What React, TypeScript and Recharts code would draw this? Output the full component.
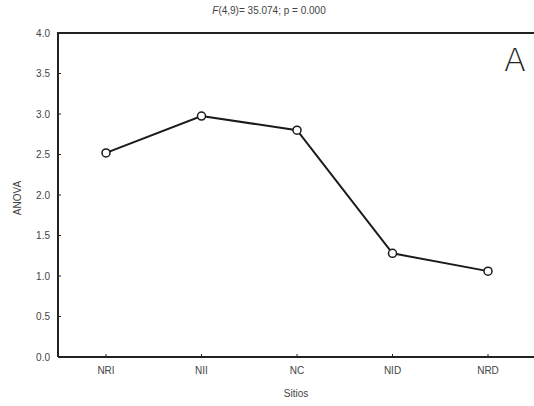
import React from 'react';
import { LineChart, Line, XAxis, YAxis } from 'recharts';

const sites = ['NRI', 'NII', 'NC', 'NID', 'NRD'];
const anovaMeans = [2.52, 2.975, 2.8, 1.28, 1.06];
const yTicks = [0, 0.5, 1, 1.5, 2, 2.5, 3, 3.5, 4];

const data = sites.map((s, i) => ({ site: s, value: anovaMeans[i] }));

const font = '"Liberation Sans", Arial, sans-serif';
const textColor = '#444';
const axisColor = '#222';

const App: React.FC = () => {
    return (
        <div style={{ position: 'absolute', left: 0, top: 0, width: 534, height: 406, overflow: 'hidden', background: '#fff', fontFamily: font }}>
            <LineChart width={540} height={406} data={data} margin={{ top: 33, right: 4, bottom: 19, left: 18 }}>
                <XAxis
                    dataKey="site"
                    padding={{ left: 48, right: 48 }}
                    axisLine={{ stroke: axisColor, strokeWidth: 2 }}
                    tickLine={{ stroke: axisColor }}
                    tickSize={-3}
                    tickMargin={13}
                    height={30}
                    tick={{ fontSize: 10, fill: textColor, fontFamily: font }}
                />
                <YAxis
                    domain={[0, 4]}
                    ticks={yTicks}
                    tickFormatter={(v: number) => v.toFixed(1)}
                    width={40}
                    axisLine={{ stroke: axisColor, strokeWidth: 2 }}
                    tickLine={{ stroke: axisColor }}
                    tickSize={-3}
                    tickMargin={11}
                    tick={{ fontSize: 10, fill: textColor, fontFamily: font }}
                />
                <Line
                    dataKey="value"
                    type="linear"
                    stroke="#1a1a1a"
                    strokeWidth={2}
                    dot={{ r: 4, fill: '#fff', stroke: '#1a1a1a', strokeWidth: 1.5 }}
                    isAnimationActive={false}
                />
            </LineChart>
            {/* top edge of the plot frame */}
            <div style={{ position: 'absolute', left: 57, top: 32, width: 480, height: 2, background: axisColor }} />
            <div style={{ position: 'absolute', left: 0, width: 538, top: 5, textAlign: 'center', fontSize: 10, color: textColor }}>
                <i>F</i>(4,9)= 35.074; p = 0.000
            </div>
            <div style={{ position: 'absolute', left: 0, width: 592, top: 388, textAlign: 'center', fontSize: 10, color: textColor }}>
                Sitios
            </div>
            <div style={{ position: 'absolute', left: 17, top: 198, fontSize: 10, color: textColor, transform: 'translate(-50%, -50%) rotate(-90deg)' }}>
                ANOVA
            </div>
            <div style={{ position: 'absolute', left: 504, top: 40, fontSize: 32, color: '#222', lineHeight: '40px', fontFamily: '"DejaVu Sans", sans-serif', fontWeight: 200 }}>
                A
            </div>
        </div>
    );
};

export default App;
